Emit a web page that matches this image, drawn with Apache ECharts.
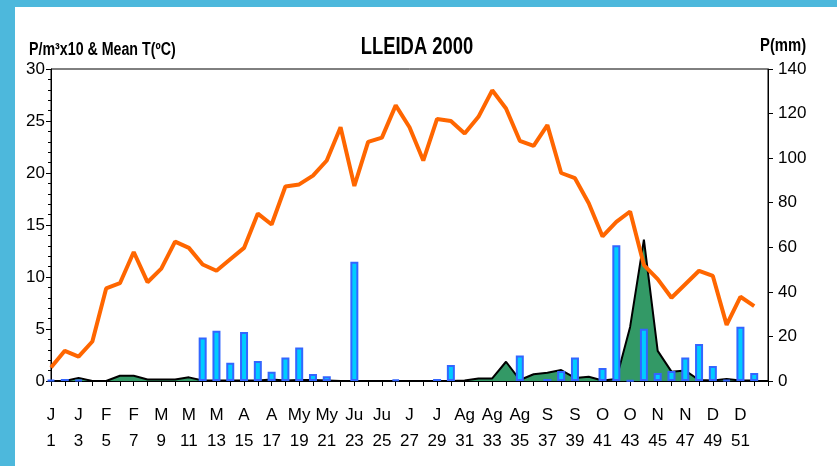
<!DOCTYPE html>
<html>
<head>
<meta charset="utf-8">
<script src="https://cdn.jsdelivr.net/npm/echarts@6/dist/echarts.min.js"></script>
<style>
html,body{margin:0;padding:0;background:#fff;}
#c{width:837px;height:466px;}
</style>
</head>
<body>
<div id="c"></div>
<script>
// Week numbers (axis runs to week 53 boundary)
var weeks = [];
for (var i = 1; i <= 53; i++) weeks.push(String(i));
// Month letters for labelled (odd) weeks 1..51
var monthLabels = ['J','J','F','F','M','M','M','A','A','My','My','Ju','Ju','J','J','Ag','Ag','Ag','S','S','O','O','N','N','D','D'];
// Mean temperature (ºC), weeks 1..52
var meanTemp = [1.3,2.9,2.35,3.8,8.9,9.4,12.4,9.5,10.8,13.4,12.8,11.2,10.6,11.7,12.8,16.1,15.05,18.7,18.9,19.75,21.2,24.4,18.75,23.0,23.4,26.5,24.4,21.2,25.2,25.0,23.8,25.4,27.95,26.2,23.1,22.6,24.6,20.0,19.5,17.1,13.9,15.3,16.3,11.15,9.8,8.0,9.3,10.6,10.1,5.4,8.1,7.2];
// Pollen P/m3 x10, weeks 1..52
var pollen = [0,0,0.3,0,0,0.5,0.5,0.15,0.15,0.15,0.35,0.05,0.05,0.05,0.05,0.05,0.15,0.05,0.1,0.1,0.05,0,0,0,0,0,0,0,0,0,0.05,0.25,0.25,1.85,0.1,0.65,0.8,1.05,0.3,0.4,0.05,0.2,5.2,13.6,2.9,0.9,1.0,0.1,0.05,0.2,0.05,0.05];
// Precipitation (mm), weeks 1..52
var precip = [0.5,0.9,0.5,0,0,0,0,0,0,0,0,19.5,22.6,8.2,22.0,9.0,4.2,10.5,15.0,3.1,2.1,0,53.5,0,0,0.6,0,0,0.9,7.2,0,0,0,0,11.4,0,0.9,4.5,10.5,0,5.8,60.9,0.3,23.5,3.6,4.5,10.5,16.6,6.7,0.5,24.3,3.6];

var FONT = "'Liberation Sans', Arial, sans-serif";
var chart = echarts.init(document.getElementById('c'), null, {renderer:'canvas'});
chart.setOption({
  animation: false,
  backgroundColor: '#fff',
  graphic: [
    {type:'rect', left:0, top:0, shape:{width:15, height:466}, style:{fill:'#4db8dc'}, silent:true},
    {type:'rect', left:0, top:0, shape:{width:837, height:7}, style:{fill:'#4db8dc'}, silent:true},
    {type:'text', x:417, y:48, scaleX:0.8,
     style:{text:'LLEIDA 2000', font:"bold 23px " + FONT, fill:'#000', textAlign:'center', textVerticalAlign:'middle'}},
    {type:'text', x:29, y:50, scaleX:0.79,
     style:{text:'P/m³x10 & Mean T(ºC)', font:"bold 18px " + FONT, fill:'#000', textAlign:'left', textVerticalAlign:'middle'}},
    {type:'text', x:760, y:46, scaleX:0.78,
     style:{text:'P(mm)', font:"bold 19px " + FONT, fill:'#000', textAlign:'left', textVerticalAlign:'middle'}}
  ],
  grid: {left:51, right:69, top:69, bottom:85, show:true, borderColor:'#000', borderWidth:1, backgroundColor:'transparent'},
  xAxis: {
    type:'category', data: weeks, boundaryGap:false,
    axisLine:{show:true, lineStyle:{color:'#000', width:2}},
    axisTick:{show:true, interval:0, length:5, lineStyle:{color:'#000'}},
    axisLabel:{
      interval:1, margin:21, color:'#000', fontFamily:FONT, fontSize:17, lineHeight:26,
      formatter:function(v, idx){ var w = parseInt(v,10); if (w > 51) return ''; return monthLabels[(w-1)/2] + '\n' + w; }
    },
    splitLine:{show:false}
  },
  yAxis: [
    {type:'value', min:0, max:30, interval:5, position:'left',
     axisLine:{show:true, lineStyle:{color:'#000'}},
     axisTick:{show:true, length:5, lineStyle:{color:'#000'}},
     minorTick:{show:true, splitNumber:5, length:3, lineStyle:{color:'#000'}},
     axisLabel:{color:'#000', fontFamily:FONT, fontSize:17, margin:6},
     splitLine:{show:false}},
    {type:'value', min:0, max:140, interval:20, position:'right',
     axisLine:{show:true, lineStyle:{color:'#000'}},
     axisTick:{show:true, length:5, lineStyle:{color:'#000'}},
     axisLabel:{color:'#000', fontFamily:FONT, fontSize:17, margin:10},
     splitLine:{show:false}}
  ],
  series: [
    {name:'Pollen', type:'line', yAxisIndex:0, data:pollen, symbol:'none', z:2,
     lineStyle:{color:'#000', width:2}, areaStyle:{color:'#339966', opacity:1}},
    {name:'P(mm)', type:'bar', yAxisIndex:1, z:3, barWidth:8,
     data: precip.map(function(v){ return v === 0 ? '-' : v; }),
     itemStyle:{color:'#00ccff', borderColor:'#3366ff', borderWidth:2}},
    {name:'Mean T', type:'line', yAxisIndex:0, data:meanTemp, symbol:'none', z:4,
     lineStyle:{color:'#ff6600', width:4}}
  ]
});
</script>
</body>
</html>
